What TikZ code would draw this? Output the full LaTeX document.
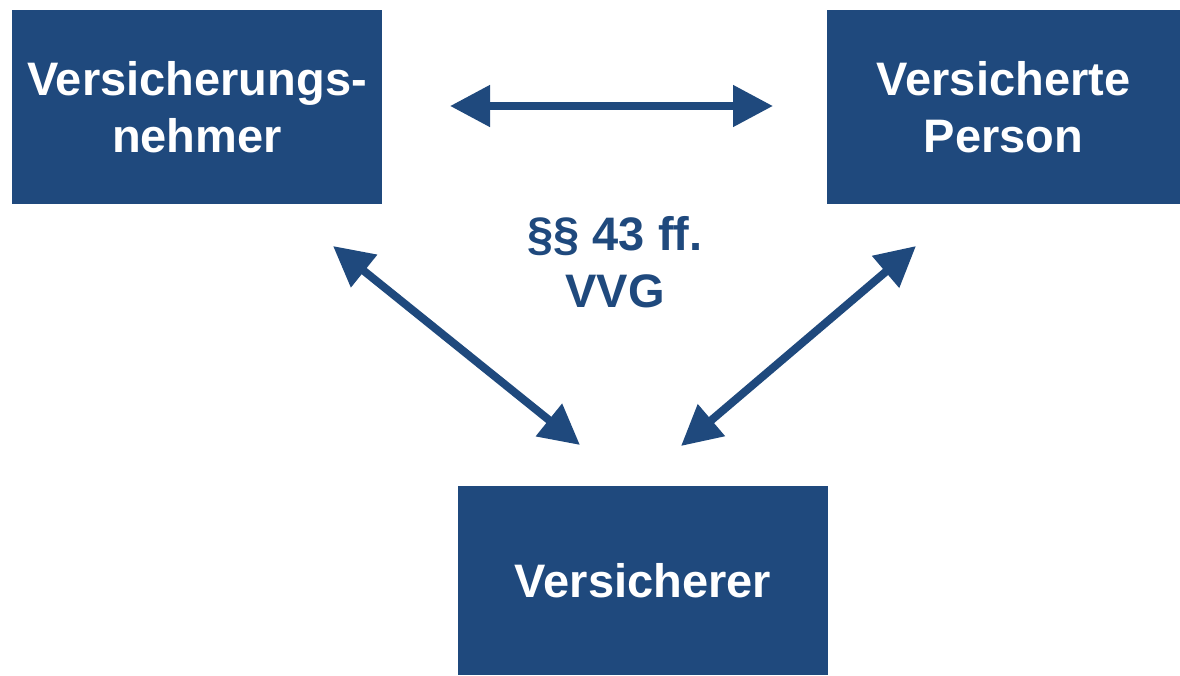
\documentclass[tikz,border=0pt]{standalone}
\usepackage{fontspec}
\setmainfont{Liberation Sans}
\usetikzlibrary{arrows.meta}
\definecolor{vblue}{HTML}{1F497D}
\begin{document}
\begin{tikzpicture}[x=1pt,y=-1pt,
  boxtext/.style={font=\fontsize{47}{57}\selectfont\bfseries, align=center},
  box/.style={boxtext, fill=vblue, text=white, inner sep=0pt},
  rel/.style={draw=vblue, line width=8pt,
    {Triangle[length=40pt,width=40pt]}-{Triangle[length=40pt,width=40pt]}}]
\useasboundingbox (0,0) rectangle (1180,675);
\node[box, minimum width=370pt, minimum height=194pt] (vn) at (197,107) {Versicherungs-\\nehmer};
\node[box, minimum width=353pt, minimum height=194pt] (vp) at (1003.5,107) {Versicherte\\Person};
\node[box, minimum width=370pt, minimum height=189pt] (vr) at (643,580.5) {Versicherer};
\node[boxtext, text=vblue] (vvg) at (615,262) {§§ 43 ff.\\VVG};
\coordinate (h1) at (450,106);
\coordinate (h2) at (773,106);
\coordinate (l1) at (333,246);
\coordinate (l2) at (580,445);
\coordinate (r1) at (916,246);
\coordinate (r2) at (681,446);
\draw[rel] (h1) -- (h2);
\draw[rel] (l1) -- (l2);
\draw[rel] (r1) -- (r2);
\end{tikzpicture}
\end{document}
